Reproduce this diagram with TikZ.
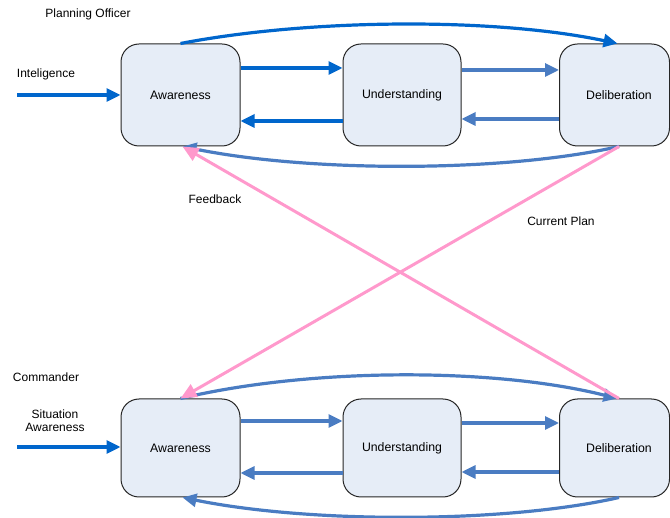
\documentclass[tikz,border=0pt]{standalone}
\usepackage{fontspec}
\setmainfont{Liberation Sans}
\usetikzlibrary{arrows.meta}
\definecolor{boxfill}{HTML}{E6EDF7}
\definecolor{darkflow}{HTML}{0066CC}
\definecolor{steelflow}{HTML}{4A7CC2}
\definecolor{pinkflow}{HTML}{FF99CC}
\tikzset{
  stage/.style={draw=black!85, line width=1pt, fill=boxfill, rounded corners=18pt,
    minimum height=#1, inner sep=0pt, font=\fontsize{12.3pt}{14pt}\selectfont},
  flow/.style={line width=3.2pt, -{Triangle[length=14pt,width=13pt]}},
  pinkarrow/.style={line width=3pt, draw=pinkflow, -{Triangle[length=16pt,width=14pt]}},
  caption/.style={font=\fontsize{12pt}{14pt}\selectfont, inner sep=0pt, align=center},
}
\begin{document}
\begin{tikzpicture}[x=1pt, y=-1pt]
\useasboundingbox (0,0) rectangle (670,518);

% Planning officer row
\node[stage=102pt, minimum width=119pt] (a1) at (180.5,95) {Awareness};
\node[stage=102pt, minimum width=118pt] (u1) at (402,95) {Understanding};
\node[stage=102pt, minimum width=110pt] (d1) at (614.5,95) {\hspace*{9pt}Deliberation};

% Commander row
\node[stage=98pt, minimum width=119pt] (a2) at (180.5,448) {Awareness};
\node[stage=98pt, minimum width=118pt] (u2) at (402,448) {Understanding};
\node[stage=98pt, minimum width=110pt] (d2) at (614.5,448) {\hspace*{9pt}Deliberation};

% Labels
\node[caption] (po) at (88,14) {Planning Officer};
\node[caption] (intel) at (46,74) {Inteligence};
\node[caption] (cmd) at (46,377) {Commander};
\node[caption] (sa) at (55,421) {Situation\\[-1pt]Awareness};
\node[caption] (fb) at (215,199) {Feedback};
\node[caption] (cp) at (561,221) {Current Plan};

\coordinate (in1) at (17,95);
\coordinate (in2) at (17,447);

% Planning officer flows
\draw[flow, darkflow] (in1) -- (a1.west);
\draw[flow, darkflow] ([yshift=27pt]a1.east) -- ([yshift=27pt]u1.west);
\draw[flow, darkflow] ([yshift=-26pt]u1.west) -- ([yshift=-26pt]a1.east);
\draw[flow, steelflow] ([yshift=25pt]u1.east) -- ([yshift=25pt]d1.west);
\draw[flow, steelflow] ([yshift=-24pt]d1.west) -- ([yshift=-24pt]u1.east);
\draw[flow, darkflow] (a1.north) .. controls ([xshift=130pt,yshift=25pt]a1.north) and ([xshift=-120pt,yshift=26pt]d1.north) .. ([xshift=3pt]d1.north);
\draw[flow, steelflow] ([xshift=4.5pt]d1.south) .. controls ([xshift=-110pt,yshift=-26pt]d1.south) and ([xshift=130pt,yshift=-26pt]a1.south) .. ([xshift=2pt]a1.south);

% Commander flows
\draw[flow, darkflow] (in2) -- ([yshift=1pt]a2.west);
\draw[flow, steelflow] ([yshift=27pt]a2.east) -- ([yshift=27pt]u2.west);
\draw[flow, steelflow] ([yshift=-25pt]u2.west) -- ([yshift=-25pt]a2.east);
\draw[flow, steelflow] ([yshift=25pt]u2.east) -- ([yshift=25pt]d2.west);
\draw[flow, steelflow] ([yshift=-24pt]d2.west) -- ([yshift=-24pt]u2.east);
\draw[flow, steelflow] (a2.north) .. controls ([xshift=130pt,yshift=31pt]a2.north) and ([xshift=-120pt,yshift=31pt]d2.north) .. ([xshift=3pt]d2.north);
\draw[flow, steelflow] ([xshift=4.5pt]d2.south) .. controls ([xshift=-110pt,yshift=-26pt]d2.south) and ([xshift=130pt,yshift=-26pt]a2.south) .. ([xshift=2pt]a2.south);

% Links between the two rows
\draw[pinkarrow] ([xshift=4.5pt]d1.south) -- (a2.north);
\draw[pinkarrow] ([xshift=4.5pt]d2.north) -- ([xshift=2pt]a1.south);
\end{tikzpicture}
\end{document}
